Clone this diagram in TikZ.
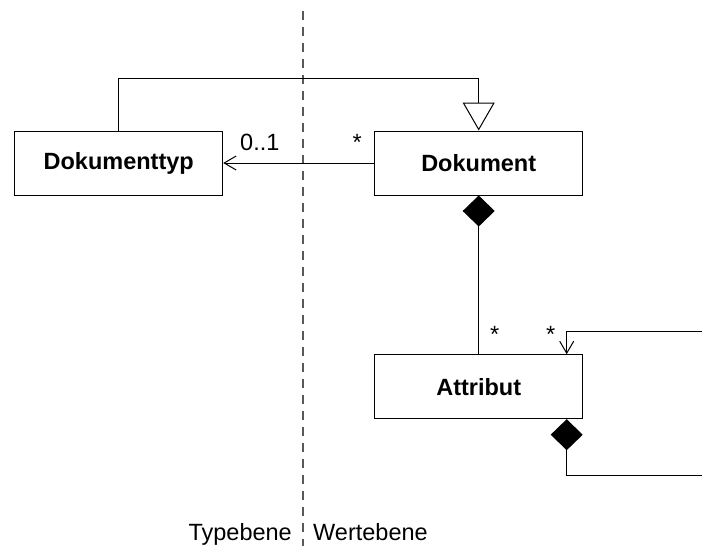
\documentclass[tikz,border=0pt]{standalone}
\usepackage{fontspec}
\setmainfont{Liberation Sans}
\usetikzlibrary{arrows.meta}
\begin{document}
\begin{tikzpicture}[x=1pt,y=-1pt,
  every node/.style={font=\fontsize{23.5}{28}\selectfont},
  classbox/.style={draw=black, line width=1pt, fill=white, minimum width=208pt,
    minimum height=64pt, inner sep=0pt, font=\fontsize{23.5}{28}\selectfont\bfseries},
  conn/.style={draw=black, line width=1pt},
  navig/.style={conn, -{Straight Barb[length=12pt,width=14pt,line width=1pt]}},
  gener/.style={conn, -{Triangle[open,length=28pt,width=32pt,fill=white,line width=1pt]}},
  compo/.style={conn, {Diamond[length=31pt,width=32pt,fill=black]}-},
  mult/.style={inner sep=0pt, anchor=base west},
  divider/.style={draw=black!65, line width=1.2pt, dash pattern=on 9pt off 7pt}
]
\useasboundingbox (0,0) rectangle (702,546);

% level divider
\coordinate (divtop) at (303,11);
\coordinate (divbot) at (303,546);
\draw[divider] (divtop) -- (divbot);

% classes
\node[classbox] (dt) at (118.7,163) {Dokumenttyp};
\node[classbox] (dok) at (478.7,163) {Dokument};
\node[classbox] (attr) at (478.7,386.7) {Attribut};

% generalisation Dokumenttyp -> Dokument
\draw[gener] (dt.north) -- ++(0,-52) -| (dok.north);

% association Dokument -> Dokumenttyp
\draw[navig] (dok.west) -- (dt.east);
\node[mult] (m01) at (240,150) {0..1};
\node[mult] (mdok) at (352.5,150) {*};

% composition Dokument <>- Attribut
\draw[compo] (dok.south) -- (attr.north);
\node[mult] (mattr) at (490,342) {*};

% recursive composition of Attribut
\coordinate (selfin) at (702,331.7);
\coordinate (selfout) at (702,475.3);
\draw[navig] (selfin) -| ([xshift=88pt]attr.north);
\draw[compo] ([xshift=88pt]attr.south) |- (selfout);
\node[mult] (mself) at (546,342) {*};

% level captions
\node[inner sep=0pt, anchor=base east] (typ) at (292,540) {Typebene};
\node[inner sep=0pt, anchor=base west] (wert) at (313,540) {Wertebene};
\end{tikzpicture}
\end{document}
